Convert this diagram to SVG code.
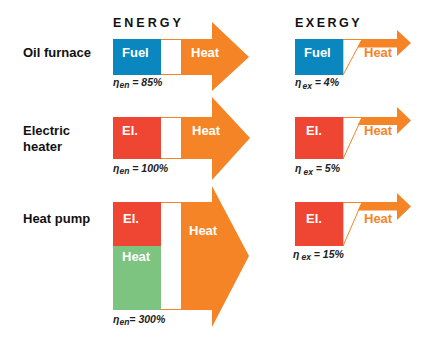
<svg xmlns="http://www.w3.org/2000/svg" width="441" height="362" viewBox="0 0 441 362">
<style>
.lbl{font-family:"Liberation Sans",Arial,sans-serif;font-weight:bold;font-size:13px;fill:#111}
.hdr{font-family:"Liberation Sans",Arial,sans-serif;font-weight:bold;font-size:12.5px;fill:#111;letter-spacing:3px}
.in{font-family:"Liberation Sans",Arial,sans-serif;font-weight:bold;font-size:13px;fill:#fff}
.ho{font-family:"Liberation Sans",Arial,sans-serif;font-weight:bold;font-size:13px;fill:#f58426}
.eta{font-family:"Liberation Sans",Arial,sans-serif;font-weight:bold;font-style:italic;font-size:10.5px;fill:#222}
.sub{font-size:8.5px}
.or{fill:#f58426}
.bl{fill:#0b87bf}
.rd{fill:#ef4634}
.gr{fill:#7cc47f}
.wh{fill:#fff;stroke:#f58426;stroke-width:1}
</style>
<rect width="441" height="362" fill="#fff"/>
<text class="hdr" x="113" y="27">ENERGY</text>
<text class="hdr" x="295" y="27" style="letter-spacing:2.5px">EXERGY</text>

<g id="row-oil">
<text class="lbl" x="23" y="57">Oil furnace</text>
<g id="oil-energy">
<polygon class="or" points="161,39 212,39 212,22 249,57 212,91 212,75 161,75"/>
<rect class="bl" x="113" y="39" width="48" height="36"/>
<rect x="161" y="39.5" width="20" height="35" fill="#fff"/>
<line x1="161" y1="39.5" x2="181" y2="39.5" stroke="#f58426" stroke-width="1"/>
<line x1="161" y1="74.5" x2="181" y2="74.5" stroke="#f58426" stroke-width="1"/>
<text class="in" x="122" y="57">Fuel</text>
<text class="in" x="191" y="57">Heat</text>
<text class="eta" x="113" y="86">η<tspan class="sub" dy="2">en</tspan><tspan dy="-2"> = 85%</tspan></text>
</g>
<g id="oil-exergy">
<polygon class="wh" points="343,39.5 362,39.5 343,75"/>
<polygon class="or" points="362,39 397,39 397,30 411,43 397,56 397,47.5 357.5,47.5"/>
<rect class="bl" x="295" y="39" width="48" height="36"/>
<text class="in" x="304" y="57">Fuel</text>
<text class="ho" x="364" y="57">Heat</text>
<text class="eta" x="295" y="86">η<tspan class="sub" dx="1" dy="3">ex</tspan><tspan dy="-3"> = 4%</tspan></text>
</g>
</g>

<g id="row-electric">
<text class="lbl" x="23" y="135">Electric</text>
<text class="lbl" x="23" y="151">heater</text>
<g id="el-energy">
<polygon class="or" points="161,117 212,117 212,97 250,138 212,180 212,159 161,159"/>
<rect class="rd" x="113" y="117" width="48" height="42"/>
<rect x="161" y="117.5" width="20" height="41" fill="#fff"/>
<line x1="161" y1="117.5" x2="181" y2="117.5" stroke="#f58426" stroke-width="1"/>
<line x1="161" y1="158.5" x2="181" y2="158.5" stroke="#f58426" stroke-width="1"/>
<text class="in" x="122" y="135">El.</text>
<text class="in" x="192" y="135">Heat</text>
<text class="eta" x="113" y="172">η<tspan class="sub" dy="2">en</tspan><tspan dy="-2"> = 100%</tspan></text>
</g>
<g id="el-exergy">
<polygon class="wh" points="343,117.5 362,117.5 343,159"/>
<polygon class="or" points="362,117 397,117 397,107 411,120.5 397,134 397,125 357.8,125"/>
<rect class="rd" x="295" y="117" width="48" height="42"/>
<text class="in" x="306" y="135">El.</text>
<text class="ho" x="364" y="135">Heat</text>
<text class="eta" x="295" y="172">η<tspan class="sub" dx="2" dy="3">ex</tspan><tspan dy="-3"> = 5%</tspan></text>
</g>
</g>

<g id="row-heatpump">
<text class="lbl" x="23" y="223">Heat pump</text>
<g id="hp-energy">
<polygon class="or" points="161,202 212,202 212,186 249,256 212,327 212,310 161,310"/>
<rect class="rd" x="113" y="202" width="48" height="44"/>
<rect class="gr" x="113" y="246" width="48" height="64"/>
<rect x="161" y="202.5" width="20" height="107" fill="#fff"/>
<line x1="161" y1="202.5" x2="181" y2="202.5" stroke="#f58426" stroke-width="1"/>
<line x1="161" y1="309.5" x2="181" y2="309.5" stroke="#f58426" stroke-width="1"/>
<text class="in" x="123" y="223">El.</text>
<text class="in" x="122" y="261">Heat</text>
<text class="in" x="189" y="235">Heat</text>
<text class="eta" x="113" y="323">η<tspan class="sub" dy="2">en</tspan><tspan dy="-2">= 300%</tspan></text>
</g>
<g id="hp-exergy">
<polygon class="wh" points="343,202.5 362,202.5 343,246"/>
<polygon class="or" points="362,202 397,202 397,193 411,206.5 397,220 397,210.5 357.9,210.5"/>
<rect class="rd" x="295" y="202" width="48" height="44"/>
<text class="in" x="306" y="223">El.</text>
<text class="ho" x="364" y="223">Heat</text>
<text class="eta" x="293" y="258">η<tspan class="sub" dx="2" dy="2">ex</tspan><tspan dy="-2"> = 15%</tspan></text>
</g>
</g>
</svg>
